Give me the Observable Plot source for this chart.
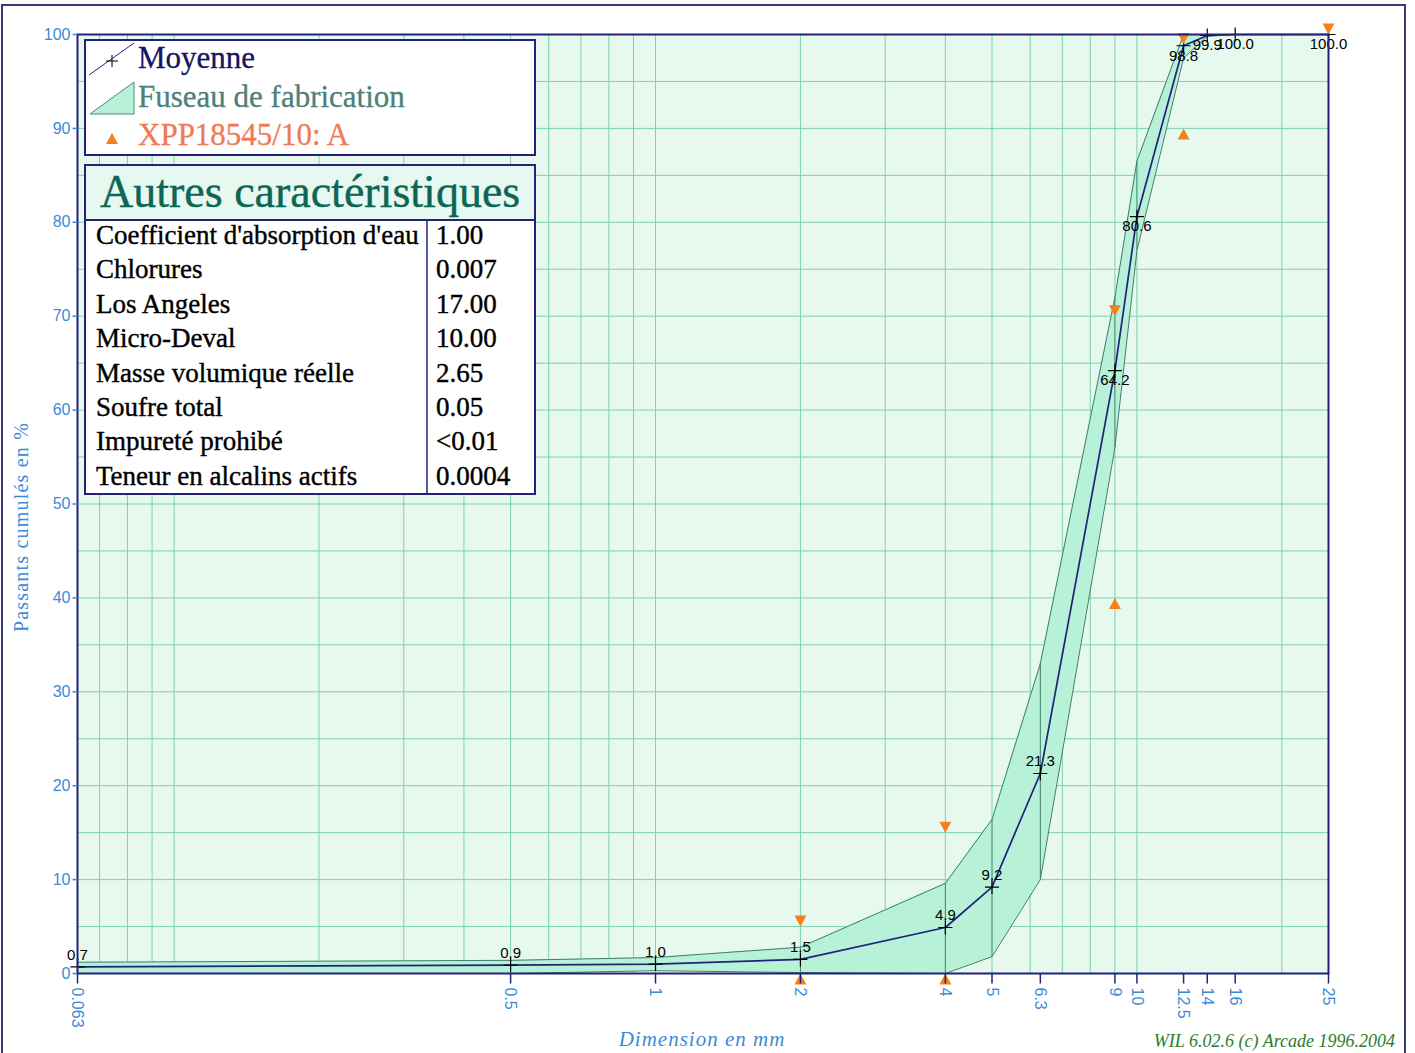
<!DOCTYPE html>
<html>
<head>
<meta charset="utf-8">
<script src="https://cdn.jsdelivr.net/npm/d3@7"></script>
<script src="https://cdn.jsdelivr.net/npm/@observablehq/plot@0.6"></script>
<style>
  html, body { margin: 0; padding: 0; background: #ffffff; }
  #wrap { position: relative; width: 1415px; height: 1053px; overflow: hidden; }
  #chart, #overlay { position: absolute; left: 0; top: 0; }
  #overlay { pointer-events: none; }
</style>
</head>
<body>
<div id="wrap">
  <div id="chart"></div>
  <svg id="overlay" width="1415" height="1053"></svg>
</div>
<script>
// ---------- data ----------
const sieves       = [0.063, 0.5, 1, 2, 4, 5, 6.3, 9, 10, 12.5, 14, 16, 25];
const meanValues   = [0.7, 0.9, 1.0, 1.5, 4.9, 9.2, 21.3, 64.2, 80.6, 98.8, 99.9, 100.0, 100.0];
const fuseauUpper  = [1.2, 1.4, 1.7, 2.8, 9.6, 16.4, 33, 72, 86.5, 100, 100, 100, 100];
const fuseauLower  = [0, 0, 0.3, 0.1, 0, 1.8, 10, 56, 77, 97.5, 99.8, 100, 100];

const specSieves   = [2, 4, 9, 12.5, 25];
const specMin      = [0, 0, 40, 90, null];
const specMax      = [5, 15, 70, 99, 100];

const xTicks = [0.063, 0.5, 1, 2, 4, 5, 6.3, 9, 10, 12.5, 14, 16, 25];
const yTicks = [0, 10, 20, 30, 40, 50, 60, 70, 80, 90, 100];
const gridX  = [0.07, 0.08, 0.09, 0.1, 0.2, 0.3, 0.4, 0.5, 0.6, 0.7, 0.8, 0.9, 1, 2, 3, 4, 5, 6, 7, 8, 9, 10, 20];
const gridY  = [5, 10, 15, 20, 25, 30, 35, 40, 45, 50, 55, 60, 65, 70, 75, 80, 85, 90, 95];

const legendLabels = ["Moyenne", "Fuseau de fabrication", "XPP18545/10: A"];
const tableTitle   = "Autres caractéristiques";
const tableLabels  = ["Coefficient d'absorption d'eau", "Chlorures", "Los Angeles", "Micro-Deval",
                      "Masse volumique réelle", "Soufre total", "Impureté prohibé", "Teneur en alcalins actifs"];
const tableValues  = ["1.00", "0.007", "17.00", "10.00", "2.65", "0.05", "<0.01", "0.0004"];

const yTitle  = "Passants cumulés en %";
const xTitle  = "Dimension en mm";
const credit  = "WIL 6.02.6 (c) Arcade 1996.2004";

// ---------- tables built from the arrays ----------
const mean   = sieves.map((s, i) => ({size: s, v: meanValues[i]}));
const fuseau = sieves.map((s, i) => ({size: s, lo: fuseauLower[i], hi: fuseauUpper[i]}));
const specLo = specSieves.map((s, i) => ({size: s, v: specMin[i]})).filter(d => d.v != null);
const specHi = specSieves.map((s, i) => ({size: s, v: specMax[i]})).filter(d => d.v != null);

// ---------- colours ----------
const navy = "#22227a";
const blue = "#3b8bd6";
const gridC = "#7dd1ae";
const bandFill = "#b6f1d8";
const bandLine = "#3e7f69";
const orange = "#f3821e";

// custom symbols
const plusSym = {draw(ctx) { ctx.moveTo(-7, 0); ctx.lineTo(7, 0); ctx.moveTo(0, -7); ctx.lineTo(0, 7); }};
const upTri   = {draw(ctx) { ctx.moveTo(0, 0); ctx.lineTo(6, 11); ctx.lineTo(-6, 11); ctx.closePath(); }};
const downTri = {draw(ctx) { ctx.moveTo(0, 0); ctx.lineTo(6, -11); ctx.lineTo(-6, -11); ctx.closePath(); }};
const tickSym = {draw(ctx) { ctx.moveTo(0, 0); ctx.lineTo(0, 10); }};
const yTickSym = {draw(ctx) { ctx.moveTo(0, 0); ctx.lineTo(-5, 0); }};

const chart = Plot.plot({
  width: 1415,
  height: 1053,
  marginLeft: 77,
  marginRight: 87,
  marginTop: 34,
  marginBottom: 80,
  x: {type: "log", domain: [0.063, 25], axis: null},
  y: {domain: [0, 100], axis: null},
  style: {fontFamily: "Liberation Sans, Arial, sans-serif", fontSize: "16px", background: "transparent", overflow: "visible"},
  marks: [
    Plot.frame({fill: "#e7f8ef", stroke: "none"}),
    Plot.ruleX(gridX, {y1: 0, y2: 100, stroke: gridC, strokeWidth: 1}),
    Plot.ruleY(gridY, {stroke: gridC, strokeWidth: 1}),
    Plot.areaY(fuseau, {x: "size", y1: "lo", y2: "hi", fill: bandFill}),
    Plot.line(fuseau, {x: "size", y: "hi", stroke: bandLine, strokeWidth: 1}),
    Plot.line(fuseau, {x: "size", y: "lo", stroke: bandLine, strokeWidth: 1}),
    Plot.ruleX(fuseau, {x: "size", y1: "lo", y2: "hi", stroke: bandLine, strokeWidth: 1}),
    Plot.line(mean, {x: "size", y: "v", stroke: navy, strokeWidth: 1.7}),
    Plot.dot(mean, {x: "size", y: "v", symbol: plusSym, stroke: "#000", fill: "none", strokeWidth: 1.2}),
    Plot.text(mean.filter(d => d.v < 50), {x: "size", y: "v", text: d => d.v.toFixed(1), dy: -12, fill: "#000", fontSize: 15, fontFamily: "Liberation Sans, sans-serif"}),
    Plot.text(mean.filter(d => d.v >= 50), {x: "size", y: "v", text: d => d.v.toFixed(1), dy: 10, fill: "#000", fontSize: 15, fontFamily: "Liberation Sans, sans-serif"}),
    Plot.dot(specLo, {x: "size", y: "v", symbol: upTri, fill: orange, stroke: "none"}),
    Plot.dot(specHi, {x: "size", y: "v", symbol: downTri, fill: orange, stroke: "none"}),
    Plot.frame({stroke: navy, strokeWidth: 2}),
    // y axis: ticks and labels
    Plot.dot(yTicks, {x: 0.063, y: d => d, symbol: yTickSym, stroke: blue, fill: "none"}),
    Plot.text(yTicks, {x: 0.063, y: d => d, text: d => String(d), dx: -7, textAnchor: "end", fill: blue, fontSize: 16}),
    // x axis: ticks below the frame and rotated labels
    Plot.dot(xTicks, {x: d => d, y: 0, symbol: tickSym, stroke: navy, strokeWidth: 1.5, fill: "none"}),
    Plot.text(xTicks, {x: d => d, y: 0, text: d => String(d), dy: 14, rotate: 90, textAnchor: "start", lineAnchor: "middle", fill: blue, fontSize: 16})
  ]
});
document.getElementById("chart").appendChild(chart);

// ---------- overlay: legend, table, titles ----------
const svg = d3.select("#overlay");
const serif = "Liberation Serif, Times New Roman, serif";

// outer border
svg.append("rect").attr("x", 2).attr("y", 5).attr("width", 1403).attr("height", 1060)
  .attr("fill", "none").attr("stroke", "#3a3a78").attr("stroke-width", 2);

// legend box
svg.append("rect").attr("x", 85).attr("y", 40).attr("width", 450).attr("height", 115)
  .attr("fill", "#ffffff").attr("stroke", navy).attr("stroke-width", 2);
// Moyenne icon
svg.append("line").attr("x1", 89).attr("y1", 75).attr("x2", 134).attr("y2", 43).attr("stroke", navy).attr("stroke-width", 1);
svg.append("path").attr("d", "M106,61H118M112,55V67").attr("stroke", "#000").attr("stroke-width", 1);
// Fuseau icon
svg.append("path").attr("d", "M90,114L134,82L134,114Z").attr("fill", bandFill).attr("stroke", "#4c8a78").attr("stroke-width", 1);
// spec icon
svg.append("path").attr("d", "M112,133L118,144L106,144Z").attr("fill", orange);
const legendColors = ["#15155e", "#4d7f7b", "#f07a55"];
const legendY = [68, 107, 145];
legendLabels.forEach((t, i) => {
  svg.append("text").attr("x", 138).attr("y", legendY[i]).attr("font-family", serif).attr("font-size", 31)
    .attr("fill", legendColors[i]).attr("stroke", legendColors[i]).attr("stroke-width", 0.3).text(t);
});

// table
svg.append("rect").attr("x", 85).attr("y", 165).attr("width", 450).attr("height", 329)
  .attr("fill", "#ffffff").attr("stroke", navy).attr("stroke-width", 2);
svg.append("rect").attr("x", 86).attr("y", 166).attr("width", 448).attr("height", 54).attr("fill", "#e7f8f0");
svg.append("line").attr("x1", 85).attr("x2", 535).attr("y1", 220).attr("y2", 220).attr("stroke", navy).attr("stroke-width", 2);
svg.append("line").attr("x1", 427).attr("x2", 427).attr("y1", 220).attr("y2", 494).attr("stroke", navy).attr("stroke-width", 1.5);
svg.append("text").attr("x", 100).attr("y", 207).attr("font-family", serif).attr("font-size", 46)
  .attr("fill", "#0c6656").attr("stroke", "#0c6656").attr("stroke-width", 0.4).text(tableTitle);
tableLabels.forEach((t, i) => {
  const y = 244 + i * 34.4;
  svg.append("text").attr("x", 96).attr("y", y).attr("font-family", serif).attr("font-size", 27)
    .attr("fill", "#000").attr("stroke", "#000").attr("stroke-width", 0.4).text(t);
  svg.append("text").attr("x", 436).attr("y", y).attr("font-family", serif).attr("font-size", 27)
    .attr("fill", "#000").attr("stroke", "#000").attr("stroke-width", 0.4).text(tableValues[i]);
});

// axis titles and credit
svg.append("text").attr("transform", "translate(28,527) rotate(-90)").attr("text-anchor", "middle")
  .attr("font-family", serif).attr("font-size", 20).attr("letter-spacing", 1.2).attr("fill", blue).text(yTitle);
svg.append("text").attr("x", 702).attr("y", 1046).attr("text-anchor", "middle").attr("font-style", "italic")
  .attr("font-family", serif).attr("font-size", 21).attr("letter-spacing", 1).attr("fill", blue).text(xTitle);
svg.append("text").attr("x", 1395).attr("y", 1047).attr("text-anchor", "end").attr("font-style", "italic")
  .attr("font-family", serif).attr("font-size", 18).attr("fill", "#2a7d2a").text(credit);
</script>
</body>
</html>
